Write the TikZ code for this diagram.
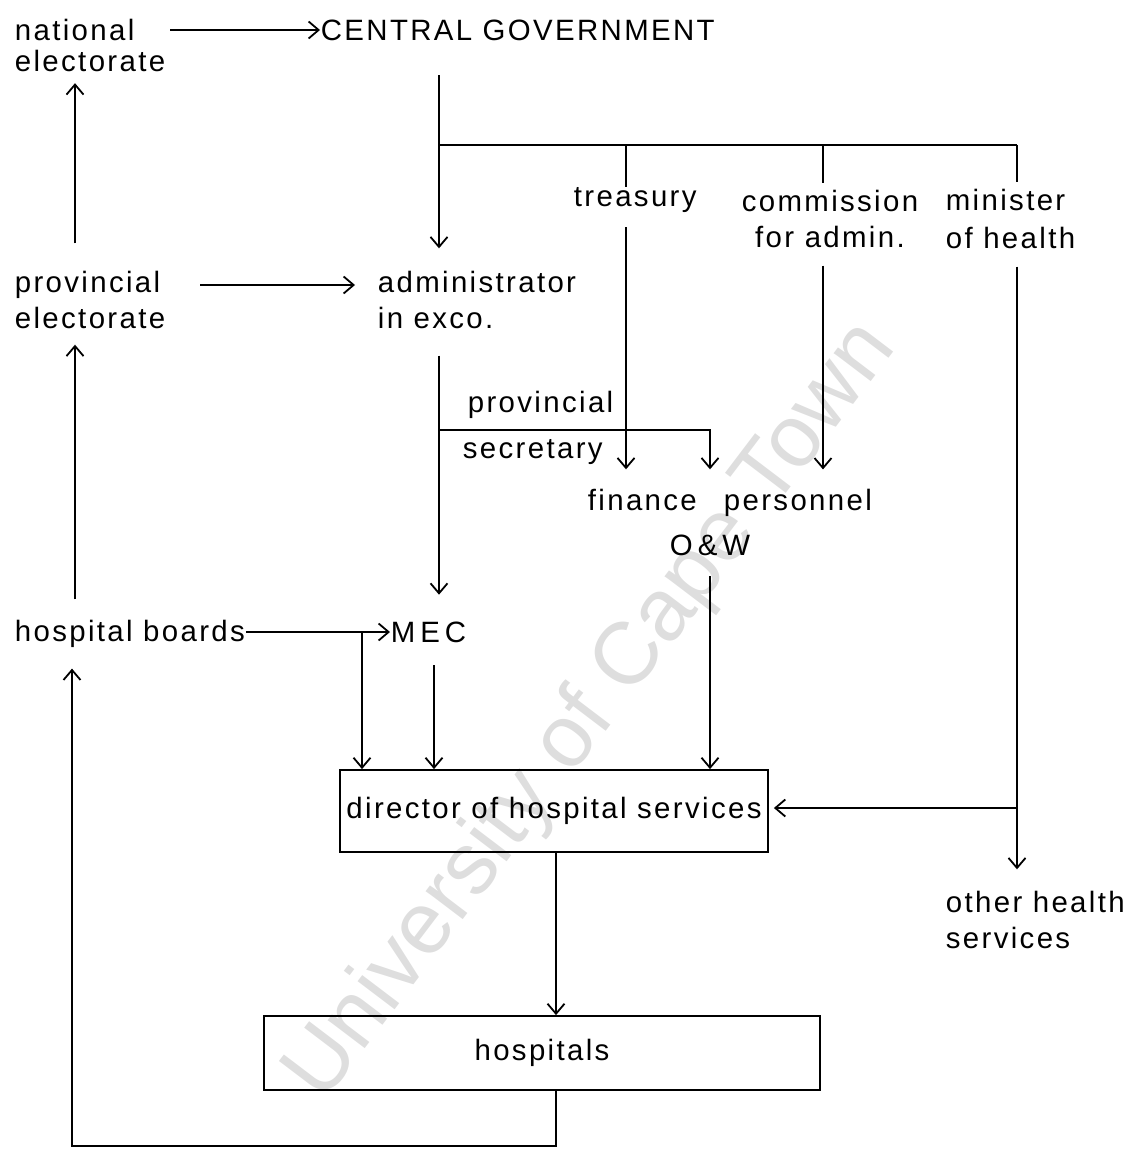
\documentclass[tikz,border=0pt]{standalone}
\usepackage{fontspec}
\setmainfont{Liberation Sans}[LetterSpace=8]
\newfontfamily\markfont{Liberation Sans}
\usetikzlibrary{arrows.meta}
\definecolor{markgray}{gray}{0.87}
\begin{document}
\begin{tikzpicture}[x=0.5pt,y=-0.5pt,
  line width=0.9pt,
  arr/.style={-{Straight Barb[length=5pt,width=8.5pt,line width=0.9pt]}},
  lbl/.style={inner sep=0pt, anchor=west, align=left, font=\fontsize{14.7}{18}\selectfont},
  box/.style={draw, inner sep=0pt, font=\fontsize{14.7}{18}\selectfont}]
\useasboundingbox (0,0) rectangle (1139,1150);

% faint repository watermark
\node[markgray, inner sep=0pt, font=\markfont\fontsize{44}{44}\selectfont, rotate=52.8] (mark) at (592,712) {University of Cape Town};

% column and row guides for the connectors
\coordinate (cL) at (75,0);
\coordinate (cBot) at (72,1146);
\coordinate (cA) at (439,0);
\coordinate (cT) at (626,0);
\coordinate (cC) at (823,0);
\coordinate (cM) at (1017,0);
\coordinate (cP) at (710,0);
\coordinate (cB) at (362,0);
\coordinate (cMEC) at (434,0);
\coordinate (cD) at (556,0);
\coordinate (rBus) at (0,145);
\coordinate (rPA) at (0,285);
\coordinate (rPS) at (0,430);
\coordinate (rDir) at (0,808);

% labels
\node[lbl, font=\fontsize{14.7}{15.5}\selectfont] (natel) at (14,45) {national\\electorate};
\node[lbl] (cg) at (320,30) {CENTRAL GOVERNMENT};
\node[lbl] (provel) at (14,300) {provincial\\electorate};
\node[lbl] (admin) at (377,300) {administrator\\in exco.};
\node[lbl] (treas) at (573,200) {treasury};
\node[lbl, anchor=center, align=center] (comm) at (830,219) {commission\\for admin.};
\node[lbl, font=\fontsize{14.7}{19}\selectfont] (minister) at (945,219) {minister\\of health};
\node[lbl] (provsec) at (467,405) {provincial};
\node[lbl] (secr) at (462,452) {secretary};
\node[lbl] (fin) at (587,500) {finance};
\node[lbl] (pers) at (723,503) {personnel};
\node[lbl, anchor=center] (ow) at (710,545) {O\,\&\,W};
\node[lbl] (hb) at (14,634) {hospital boards};
\node[lbl] (mec) at (390,632) {M\,E\,C};
\node[lbl] (other) at (945,920) {other health\\services};

% boxes
\node[box, minimum width=214pt, minimum height=41pt] (dir) at (554,811) {director of hospital services};
\node[box, minimum width=278pt, minimum height=37pt] (hosp) at (542,1053) {hospitals};

% electorate chain on the left
\draw[arr, shorten <=2pt] (natel.east |- cg.west) -- (cg.west);
\draw[arr, shorten <=13.5pt, shorten >=5.5pt] (provel.north -| cL) -- (natel.south -| cL);
\draw[arr, shorten <=10pt, shorten >=7.5pt] (hb.north -| cL) -- (provel.south -| cL);
\draw[arr, shorten >=10pt] (hosp.south -| cD) |- (cBot) -- (hb.south -| cBot);
\draw[arr, shorten <=17pt, shorten >=11pt] (provel.east |- rPA) -- (admin.west |- rPA);

% central government and its branches
\draw[arr, shorten <=17pt, shorten >=11pt] (cg.south -| cA) -- (admin.north -| cA);
\draw (cA |- rBus) -- (cM |- rBus);
\draw (cT |- rBus) -- (treas.north -| cT);
\draw[shorten >=3pt] (cC |- rBus) -- (comm.north -| cC);
\draw[shorten >=3pt] (cM |- rBus) -- (minister.north -| cM);
\draw[arr, shorten <=7pt, shorten >=9.5pt] (treas.south -| cT) -- (fin.north -| cT);
\draw[arr, shorten <=8.5pt, shorten >=9.5pt] (comm.south -| cC) -- (pers.north -| cC);
\draw[arr, shorten <=8.5pt, shorten >=10.5pt] (minister.south -| cM) -- (other.north -| cM);
\draw[arr, shorten >=2.5pt] (cM |- rDir) -- (dir.east |- rDir);

% provincial administration
\draw[arr, shorten <=13pt, shorten >=13pt] (admin.south -| cA) -- (mec.north -| cA);
\draw[arr, shorten >=9.5pt] (cA |- rPS) -| (fin.north -| cP);
\draw[arr, shorten <=10pt] (ow.south -| cP) -- (dir.north -| cP);
\draw[arr] (hb.east |- mec.west) -- (mec.west);
\draw[arr] (cB |- mec.west) -- (dir.north -| cB);
\draw[arr, shorten <=11pt] (mec.south -| cMEC) -- (dir.north -| cMEC);
\draw[arr] (dir.south -| cD) -- (hosp.north -| cD);
\end{tikzpicture}
\end{document}
